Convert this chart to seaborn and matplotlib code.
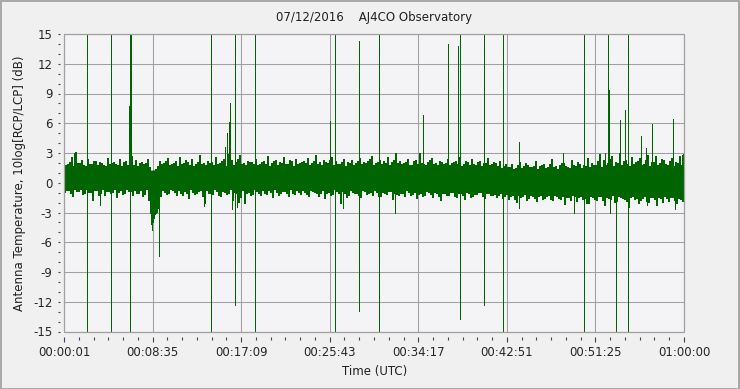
import numpy as np
import pandas as pd
import matplotlib
matplotlib.use("Agg")
import matplotlib.pyplot as plt
from matplotlib.patches import Rectangle
import seaborn as sns

# ---------------- data ----------------
title = "07/12/2016    AJ4CO Observatory"
xlabel = "Time (UTC)"
ylabel = "Antenna Temperature, 10log[RCP/LCP] (dB)"
x_tick_labels = ["00:00:01", "00:08:35", "00:17:09", "00:25:43",
                 "00:34:17", "00:42:51", "00:51:25", "01:00:00"]
t_start, t_end = 1, 3600          # seconds
y_min, y_max = -15, 15

# dense core of the noise band (read every ~116 s)
core_hi = [1.4, 1.5, 1.4, 1.5, 1.2, 1.4, 1.5, 1.4, 1.5, 1.5, 1.4, 1.5, 1.5, 1.5, 1.5, 1.4,
           1.5, 1.4, 1.3, 1.3, 1.3, 1.2, 1.1, 1.0, 1.0, 1.0, 1.0, 1.1, 1.1, 1.1, 1.0, 1.0]
core_lo = [-0.3, -0.3, -0.3, -0.4, -0.6, -0.4, -0.3, -0.3, -0.4, -0.4, -0.3, -0.3, -0.3, -0.4, -0.4, -0.4,
           -0.4, -0.4, -0.5, -0.5, -0.5, -0.6, -0.7, -0.8, -0.8, -0.8, -0.8, -0.8, -0.8, -0.8, -0.8, -0.8]

# noise envelope peaks, first reading per ~23 s window
noise_hi = [2.2, 1.8, 2.5, 3.0, 1.9, 1.7, 2.3, 1.8, 2.1, 2.0, 1.7, 2.4,
            1.9, 1.8, 2.3, 2.0, 1.7, 2.6, 2.2, 1.9, 1.8, 2.3, 0.9, 1.3,
            2.1, 1.9, 2.4, 1.8, 2.1, 2.5, 1.9, 2.0, 2.3, 1.8, 2.7, 1.9,
            2.1, 2.0, 2.5, 1.9, 2.3, 2.8, 2.2, 2.0, 2.7, 1.9, 2.1, 2.0,
            2.3, 1.8, 2.1, 2.6, 1.9, 2.2, 2.0, 2.5, 1.8, 2.1, 2.3, 1.9,
            2.1, 2.4, 1.9, 2.7, 2.0, 2.2, 1.9, 2.5, 2.1, 1.8, 2.3, 2.0,
            2.2, 1.9, 2.4, 2.0, 2.1, 2.6, 1.9, 2.2, 2.1, 2.5, 2.0, 2.9,
            2.1, 1.9, 2.3, 1.7, 2.2, 2.9, 1.8, 2.0, 2.4, 1.9, 2.1, 1.8,
            2.3, 1.9, 2.1, 2.5, 1.8, 2.0, 2.3, 1.7, 2.1, 1.9, 2.4, 1.8,
            1.9, 2.1, 1.6, 1.5, 1.8, 1.4, 2.0, 1.6, 1.7, 1.5, 2.1, 1.6,
            1.8, 1.5, 2.3, 1.6, 1.7, 1.9, 1.5, 2.2, 1.6, 1.8, 1.7, 2.4,
            1.9, 1.7, 2.8, 2.2, 1.9, 2.6, 2.0, 2.9, 2.1, 1.8, 2.5, 2.0,
            2.4, 1.8, 2.7, 2.0, 2.6, 1.9, 2.2, 1.7, 2.4, 2.0, 2.6, 2.8]
noise_lo = [-0.9, -0.7, -1.3, -0.8, -0.6, -1.0, -0.9, -1.7, -0.7, -1.0, -1.2, -0.8,
            -0.9, -1.4, -0.7, -1.0, -0.8, -1.2, -1.0, -0.7, -1.1, -1.7, -2.8, -3.0,
            -1.3, -0.9, -1.0, -0.7, -1.2, -1.0, -0.8, -1.5, -0.9, -1.0, -0.7, -2.0,
            -1.0, -1.1, -0.8, -1.3, -0.9, -1.0, -1.7, -1.0, -1.4, -2.1, -0.9, -1.1,
            -0.8, -1.2, -1.0, -0.7, -1.4, -0.9, -1.0, -0.8, -1.3, -1.0, -0.7, -1.1,
            -0.9, -1.3, -0.8, -1.0, -1.0, -1.5, -0.9, -1.1, -0.8, -2.0, -1.0, -1.2,
            -0.9, -1.0, -1.4, -0.8, -1.0, -1.2, -0.9, -1.3, -1.0, -0.8, -1.6, -1.1,
            -1.0, -1.3, -0.9, -1.1, -1.5, -1.0, -1.2, -0.9, -1.4, -1.0, -1.7, -1.0,
            -1.2, -0.9, -1.4, -1.0, -1.6, -1.0, -1.3, -1.1, -0.9, -1.5, -1.0, -1.2,
            -1.4, -1.0, -1.3, -1.6, -1.2, -1.9, -1.4, -1.1, -1.5, -1.3, -1.8, -1.2,
            -1.5, -1.2, -1.7, -1.3, -1.6, -2.2, -1.4, -1.2, -1.8, -1.3, -1.5, -2.0,
            -1.4, -1.7, -1.3, -2.3, -1.5, -1.2, -1.8, -1.4, -1.6, -2.5, -1.3, -1.5,
            -1.7, -1.3, -1.9, -1.4, -2.3, -1.5, -1.3, -1.8, -1.4, -2.0, -1.6, -1.3]
# second reading per window (offset half a window)
noise_hi_b = [1.7, 2.0, 1.6, 1.9, 2.2, 1.6, 1.8, 2.1, 1.7, 1.9, 1.6, 1.8,
              2.0, 1.7, 1.6, 2.1, 1.8, 1.7, 1.6, 2.0, 1.9, 1.5, 0.8, 1.6,
              1.8, 2.1, 1.7, 1.9, 1.6, 1.8, 2.2, 1.7, 1.6, 2.0, 1.8, 1.7,
              1.9, 1.7, 1.8, 2.1, 1.6, 1.9, 1.7, 2.3, 1.8, 1.7, 2.0, 1.8,
              1.7, 2.0, 1.8, 1.6, 2.1, 1.7, 1.9, 1.8, 2.2, 1.6, 1.8, 2.0,
              1.9, 1.7, 2.1, 1.8, 1.7, 2.0, 2.2, 1.7, 1.8, 2.0, 1.6, 1.9,
              1.7, 2.1, 1.8, 1.9, 2.3, 1.7, 2.0, 1.8, 1.9, 1.7, 2.2, 1.9,
              1.8, 2.0, 1.7, 2.1, 1.8, 1.9, 1.7, 2.2, 1.8, 1.7, 2.0, 1.9,
              1.7, 2.0, 1.8, 1.6, 2.1, 1.7, 1.8, 2.0, 1.6, 1.9, 1.7, 2.0,
              1.6, 1.4, 1.8, 1.5, 1.3, 1.7, 1.4, 1.9, 1.5, 1.6, 1.3, 1.7,
              1.4, 1.8, 1.5, 1.3, 1.9, 1.6, 1.4, 1.7, 2.0, 1.4, 1.6, 1.5,
              1.7, 2.1, 1.5, 1.7, 2.3, 1.6, 1.9, 1.7, 2.2, 1.6, 1.8, 2.1,
              1.7, 2.2, 1.6, 2.0, 1.7, 2.3, 1.8, 2.1, 1.6, 1.9, 1.7, 2.0]
noise_lo_b = [-0.7, -1.0, -0.6, -0.8, -1.1, -0.6, -0.9, -0.7, -1.2, -0.6, -0.8, -1.0,
              -0.6, -0.9, -1.1, -0.6, -0.8, -0.7, -1.0, -1.3, -0.6, -0.9, -3.2, -2.6,
              -0.7, -1.1, -0.6, -0.9, -0.7, -1.2, -1.0, -0.6, -1.1, -0.8, -1.3, -0.7,
              -1.0, -0.6, -1.2, -0.8, -1.1, -0.6, -0.9, -1.9, -0.7, -1.0, -1.2, -0.6,
              -1.0, -0.7, -1.1, -0.9, -0.6, -1.2, -0.8, -1.0, -0.6, -1.1, -0.9, -0.7,
              -1.1, -0.7, -0.9, -1.3, -0.7, -1.0, -1.2, -0.6, -1.0, -0.8, -1.4, -0.7,
              -1.0, -1.2, -0.7, -1.1, -0.9, -0.7, -1.3, -0.9, -1.1, -0.8, -1.0, -1.2,
              -1.0, -0.7, -1.2, -0.9, -1.1, -1.3, -0.8, -1.1, -0.9, -1.3, -1.0, -1.2,
              -0.9, -1.3, -1.0, -1.2, -0.9, -1.4, -1.1, -0.9, -1.3, -1.0, -1.2, -1.1,
              -1.2, -1.5, -1.1, -1.3, -1.6, -1.2, -1.3, -1.7, -1.2, -1.5, -1.3, -1.6,
              -1.3, -1.6, -1.2, -1.5, -1.3, -1.4, -1.7, -1.3, -1.4, -1.6, -2.0, -1.3,
              -1.6, -1.3, -1.7, -1.4, -1.6, -1.9, -1.3, -1.5, -1.8, -1.4, -1.6, -2.1,
              -1.5, -1.8, -1.4, -1.6, -1.4, -1.9, -1.5, -1.4, -1.7, -1.5, -1.8, -1.5]

# interference spikes: time (s), low (dB), high (dB)
spike_t = [59, 134, 210, 271, 381, 386, 392, 500, 506, 512, 518, 523, 529, 535, 541, 547, 554,
           814, 853, 934, 949, 961, 965, 976, 996, 1005, 1111, 1545, 1572, 1621, 1715, 1831,
           1924, 2087, 2232, 2290, 2297, 2302, 2437, 2551, 2640, 2644, 2899, 2962, 3021, 3143,
           3156, 3161, 3165, 3170, 3207, 3227, 3230, 3259, 3277, 3352, 3381, 3383, 3416, 3538,
           3550, 3590]
spike_lo = [0.5, -15, -2.2, -15, 0.5, -15, 0.5, -3.0, -4.2, -4.8, -4.0, -3.6, -3.2, -3.0, -2.8, -2.4, -7.4,
            -2.3, -15, 0.5, 0.5, 0.5, 0.5, -2.6, -12.3, -2.4, -15, 0.5, -15, -2.5, -12.9, -15,
            -3.1, 0.5, 0.5, 0.5, -13.7, 0.5, -12.3, -15, -2.5, 0.5, 0.5, -3.1, -15, 0.3,
            0.3, 0.3, 0.3, -3.1, -15, 0.3, 0.3, 0.3, -15, 0.3, 0.3, -2.2, 0.3, 0.3,
            -2.6, 0.3]
spike_hi = [3.0, 15, 0.5, 15, 7.7, 15, 15, 0.5, 0.5, 0.5, 0.5, 0.5, 0.5, 0.5, 0.5, 0.5, 0.5,
            0.5, 15, 3.6, 5.0, 6.1, 8.0, 0.5, 15, 0.5, 15, 6.2, 15, 0.5, 14.3, 15,
            0.5, 6.8, 14.0, 13.8, 15, 15, 15, 15, 0.5, 4.1, 3.0, 0.3, 15, 3.0,
            15, 15, 9.4, 0.3, 0.3, 5.9, 6.3, 7.3, 15, 4.7, 3.5, 0.3, 5.9, 6.4,
            0.3, 2.8]

# ---------------- style ----------------
GREEN = "#006400"
GRID = "#a0a0a0"
FIG_BG = "#f0f0f0"
AX_BG = "#f4f4f6"
TXT = "#202020"
TICK = "#404060"

sns.set_style("white")
plt.rcParams["font.family"] = ["DejaVu Sans"]
plt.rcParams["font.size"] = 8.5

fig = plt.figure(figsize=(7.40, 3.89), dpi=100, facecolor=FIG_BG)
L, R, B, T = 64 / 740, 684 / 740, 1 - 331.5 / 389, 1 - 34 / 389
ax = fig.add_axes([L, B, R - L, T - B])
ax.set_facecolor(AX_BG)

# core band
t_core = np.linspace(t_start, t_end, len(core_hi))
ax.fill_between(t_core, core_lo, core_hi, color=GREEN, lw=0, zorder=2)

# zig-zag noise envelope (two readings per window)
t_n = np.linspace(t_start, t_end, len(noise_hi))
q = (t_n[1] - t_n[0]) / 4
zz_t, zz_v = [], []
for t, h, l, h2, l2 in zip(t_n, noise_hi, noise_lo, noise_hi_b, noise_lo_b):
    zz_t += [t, min(t + q, t_end), min(t + 2 * q, t_end), min(t + 3 * q, t_end)]
    zz_v += [h, l, h2, l2]
df = pd.DataFrame({"t": zz_t, "v": zz_v})
sns.lineplot(data=df, x="t", y="v", sort=False, estimator=None, color=GREEN,
             lw=0.7, ax=ax, zorder=3, antialiased=False)

# spikes
ax.vlines(spike_t, spike_lo, spike_hi, color=GREEN, lw=0.7, zorder=3, antialiased=False)

# axes limits & ticks
ax.set_xlim(t_start, t_end)
ax.set_ylim(y_min, y_max)
major_x = np.linspace(t_start, t_end, len(x_tick_labels))
ax.set_xticks(major_x)
ax.set_xticklabels(x_tick_labels, color=TXT)
ax.set_xticks(np.linspace(t_start, t_end, (len(x_tick_labels) - 1) * 6 + 1), minor=True)
ax.set_yticks(np.arange(y_min, y_max + 1, 3))
ax.set_yticklabels([str(v) for v in range(y_min, y_max + 1, 3)], color=TXT)
ax.set_yticks(np.arange(y_min, y_max + 1, 1), minor=True)

ax.grid(True, which="major", color=GRID, lw=0.75)
ax.set_axisbelow(True)
ax.set_xlabel("")
ax.set_ylabel("")

for s in ax.spines.values():
    s.set_visible(False)
ax.spines["left"].set_position(("outward", 2.9))
ax.spines["bottom"].set_position(("outward", 3.6))
ax.tick_params(axis="x", which="major", length=3.6, width=0.8, color=TICK,
               pad=3, labelsize=8.5, bottom=True)
ax.tick_params(axis="x", which="minor", length=1.8, width=0.8, color=TICK, bottom=True)
ax.tick_params(axis="y", which="both", length=1.5, width=0.8, color=TICK,
               pad=4, labelsize=8.5, left=True)

# plot frame
ax.add_patch(Rectangle((0, 0), 1, 1, transform=ax.transAxes, fill=False,
                       ec=GRID, lw=0.9, zorder=5, clip_on=False))

# texts
fig.text(374 / 740, 1 - 18 / 389, title, ha="center", va="center", color=TXT, fontsize=8.5)
fig.text(375 / 740, 1 - 372 / 389, xlabel, ha="center", va="center", color=TXT, fontsize=8.5)
fig.text(20 / 740, 1 - 183 / 389, ylabel, ha="center", va="center", rotation=90,
         color=TXT, fontsize=8.5)

# outer border
fig.add_artist(Rectangle((0.5 / 740, 0.5 / 389), 1 - 1.5 / 740, 1 - 1.5 / 389,
                         transform=fig.transFigure, fill=False, ec="#a8a8a8", lw=1.4))

fig.savefig("out.png", dpi=100, facecolor=FIG_BG)
